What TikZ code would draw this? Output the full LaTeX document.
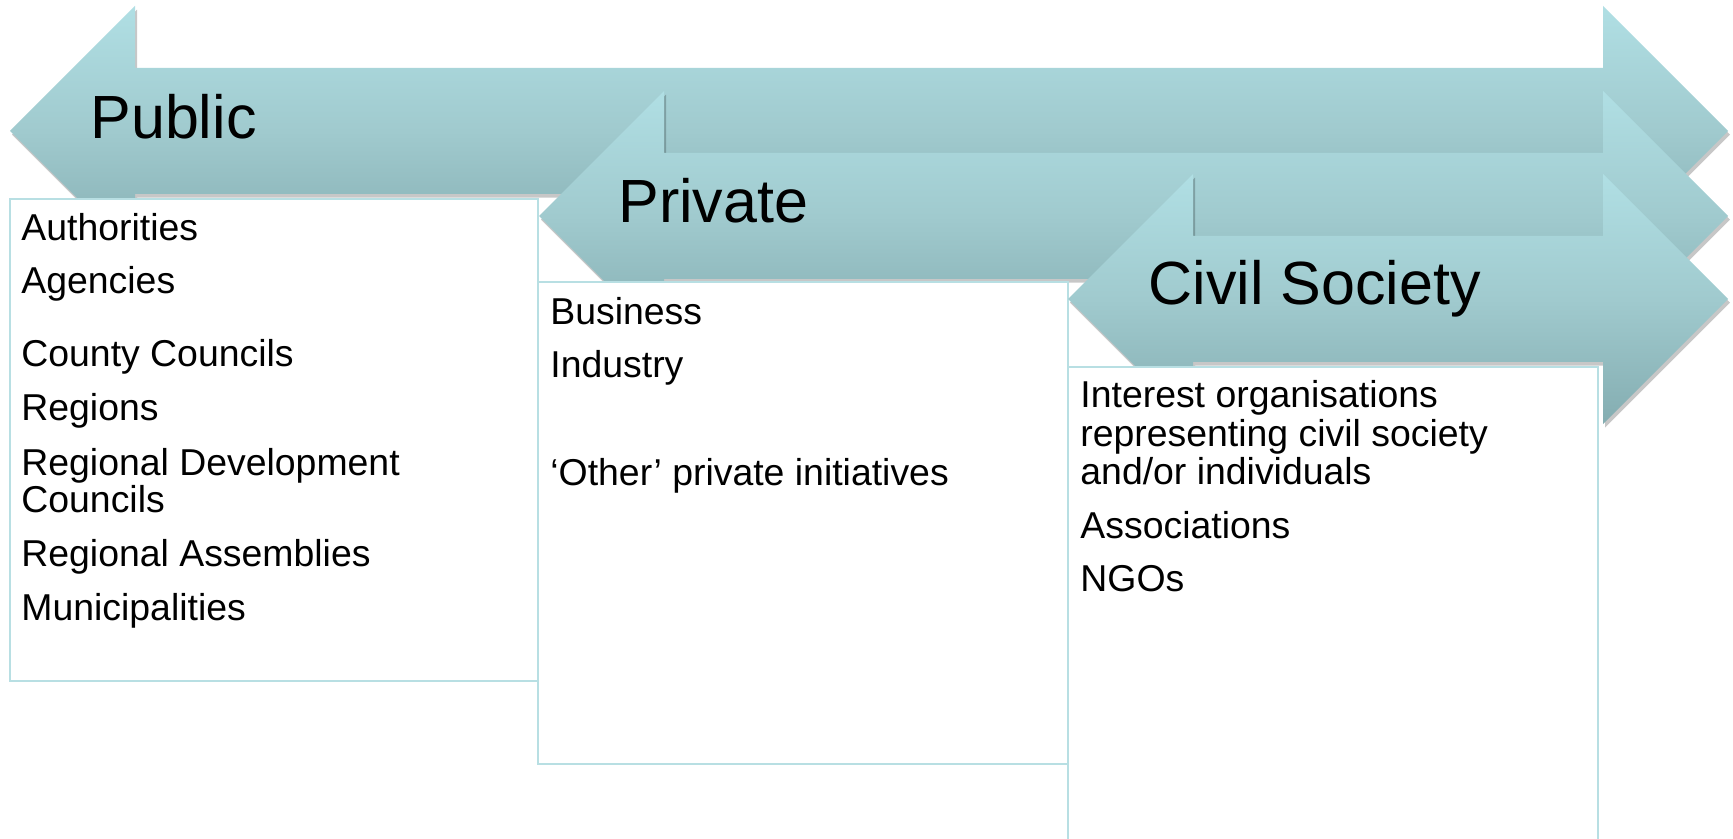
\documentclass[tikz,border=0pt]{standalone}
\usepackage{fontspec}
\setmainfont{Liberation Sans}
\usetikzlibrary{shadows}
\definecolor{arrtop}{HTML}{B0DFE4}
\definecolor{arrmid}{HTML}{A0CACE}
\definecolor{arrbot}{HTML}{84ADB1}
\definecolor{boxline}{HTML}{B8DFE3}
\tikzset{
  dblarrow/.style={top color=arrtop, bottom color=arrbot, middle color=arrmid, draw=none,
    general shadow={fill=black, opacity=0.22, shadow xshift=1pt, shadow yshift=-1.8pt}},
  listbox/.style={draw=boxline, line width=1pt, fill=white},
  titletext/.style={font=\fontsize{30.5}{36}\selectfont, anchor=base west, inner sep=0pt},
  itemtext/.style={font=\fontsize{18.7}{22}\selectfont, anchor=base west, inner sep=0pt},
}
\begin{document}
\begin{tikzpicture}[x=0.5pt, y=-0.5pt]
\clip (0,0) rectangle (1733,839);
\fill[white] (0,0) rectangle (1733,839);
% Public arrow
\path[dblarrow] (10,131) -- (135,6) -- (135,68) -- (1603,68) -- (1603,6) -- (1728,131)
  -- (1603,256) -- (1603,194) -- (135,194) -- (135,256) -- cycle;
\node[titletext] (public) at (90,139) {Public};
% Public box
\draw[listbox] (10,199) rectangle (538,681);
\node[itemtext] (pu1) at (21,240.7) {Authorities};
\node[itemtext] (pu2) at (21,294) {Agencies};
\node[itemtext] (pu3) at (21,366.7) {County Councils};
\node[itemtext] (pu4) at (21,420) {Regions};
\node[itemtext] (pu5) at (21,475) {Regional Development};
\node[itemtext] (pu6) at (21,512.7) {Councils};
\node[itemtext] (pu7) at (21,566) {Regional Assemblies};
\node[itemtext] (pu8) at (21,620) {Municipalities};
% Private arrow
\path[dblarrow] (539,216) -- (664,91) -- (664,153) -- (1603,153) -- (1603,91) -- (1728,216)
  -- (1603,341) -- (1603,279) -- (664,279) -- (664,341) -- cycle;
\node[titletext] (private) at (618,223) {Private};
% Private box
\draw[listbox] (538,282.5) rectangle (1068,764);
\node[itemtext] (pr1) at (550,324.3) {Business};
\node[itemtext] (pr2) at (550,377.7) {Industry};
\node[itemtext] (pr3) at (550,485) {‘Other’ private initiatives};
% Civil Society arrow
\path[dblarrow] (1068,299) -- (1193,174) -- (1193,236) -- (1603,236) -- (1603,174) -- (1728,299)
  -- (1603,424) -- (1603,362) -- (1193,362) -- (1193,424) -- cycle;
\node[titletext] (civil) at (1148,305) {Civil Society};
% Civil Society box
\draw[listbox] (1068,366.7) rectangle (1597.5,860);
\node[itemtext] (cs1) at (1080,407.7) {Interest organisations};
\node[itemtext] (cs2) at (1080,446.7) {representing civil society};
\node[itemtext] (cs3) at (1080,484) {and/or individuals};
\node[itemtext] (cs4) at (1080,538.3) {Associations};
\node[itemtext] (cs5) at (1080,591.7) {NGOs};
\end{tikzpicture}
\end{document}
